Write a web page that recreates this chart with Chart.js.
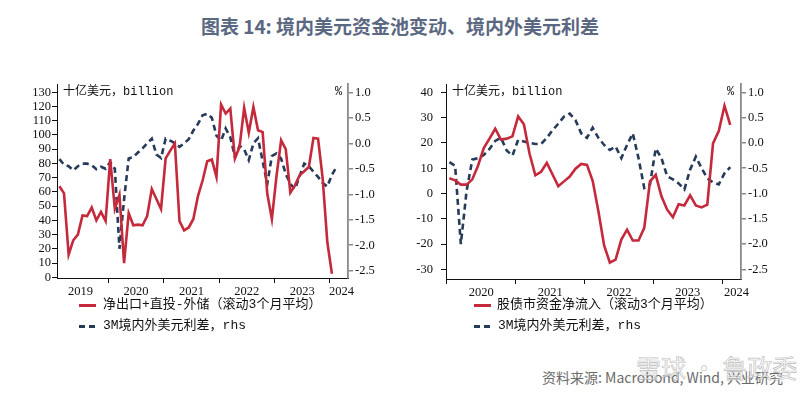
<!DOCTYPE html>
<html><head><meta charset="utf-8">
<script src="https://cdn.jsdelivr.net/npm/chart.js@4.4.1/dist/chart.umd.min.js"></script>
<style>
html,body{margin:0;padding:0;background:#fff;width:800px;height:393px;overflow:hidden;position:relative;font-family:"Noto Sans CJK SC",sans-serif}
.abs{position:absolute;white-space:nowrap}
#title{left:0;width:800px;top:12px;text-align:center;font-size:19px;font-weight:bold;color:#5b6882;line-height:28px}
canvas{position:absolute}
.unit{font-family:"Liberation Mono","Noto Sans CJK SC",monospace;font-size:12px;color:#111;line-height:14px}
.leg{font-family:"Liberation Mono","Noto Sans CJK SC",monospace;font-size:13px;color:#111;line-height:16px}
.sw{position:absolute;height:3px}
#src{right:17px;top:367px;font-size:14px;color:#6a6a6a;line-height:20px}
#wm{left:636px;top:352px;font-size:25px;color:rgba(245,245,245,0.6);-webkit-text-stroke:0.7px rgba(150,150,150,0.6);line-height:30px}
</style></head><body>
<div id="title" class="abs">图表 14: 境内美元资金池变动、境内外美元利差</div>

<canvas id="cL" width="400" height="240" style="left:0;top:60px;width:400px;height:240px"></canvas>
<canvas id="cR" width="400" height="241" style="left:400px;top:60px;width:400px;height:241px"></canvas>

<div class="abs unit" style="left:63px;top:85px">十亿美元，billion</div>
<div class="abs unit" style="left:335px;top:85px">%</div>
<div class="abs unit" style="left:452px;top:85px">十亿美元，billion</div>
<div class="abs unit" style="left:727px;top:85px">%</div>

<div class="sw" style="left:79px;top:304px;width:17px;background:#c4293c"></div>
<div class="abs leg" style="left:103px;top:297px">净出口+直投-外储（滚动3个月平均）</div>
<div class="sw" style="left:79px;top:325px;width:6px;background:#263a5a"></div>
<div class="sw" style="left:89px;top:325px;width:6px;background:#263a5a"></div>
<div class="abs leg" style="left:103px;top:318px">3M境内外美元利差，rhs</div>

<div class="sw" style="left:474px;top:304px;width:17px;background:#c4293c"></div>
<div class="abs leg" style="left:497px;top:297px">股债市资金净流入（滚动3个月平均）</div>
<div class="sw" style="left:474px;top:325px;width:6px;background:#263a5a"></div>
<div class="sw" style="left:484px;top:325px;width:6px;background:#263a5a"></div>
<div class="abs leg" style="left:498px;top:318px">3M境内外美元利差，rhs</div>

<div id="src" class="abs">资料来源: Macrobond, Wind, 兴业研究</div>
<div id="wm" class="abs">雪球 · 鲁政委</div>

<script>
// ---------- DATA (months counted from Jan 2020 = 0) ----------
const leftYears = [2019, 2020, 2021, 2022, 2023, 2024];
const rightYears = [2020, 2021, 2022, 2023, 2024];

const leftStartMonth = -11; // Feb 2019
const leftNetFlow = [64,59,16,26,30,43.5,43,49,40,46,39.5,
  83,48,58,10,45,36.5,37,36.5,43,62,
  55,48,83.5,89,94,39.5,33,35,41,57,
  68,81.5,82.7,70.5,121.3,115,118.5,83.4,91.6,119,
  101.6,119.7,103.3,102,58.8,40.8,71,96.3,90,59.5,
  64.6,71.7,74.5,77.5,97.9,97.4,69.3,24.8,2.5];
const leftSpread = [-0.31,-0.42,-0.45,-0.53,-0.45,-0.40,-0.40,-0.43,-0.51,-0.46,-0.50,
  -0.37,-0.50,-2.07,-1.10,-0.30,-0.27,-0.18,-0.10,0.00,0.09,
  -0.22,-0.29,0.09,0.05,0.00,-0.07,0.00,0.08,0.25,0.38,
  0.55,0.58,0.50,0.15,0.05,0.29,0.12,-0.27,-0.05,-0.12,
  -0.33,0.00,0.10,-0.35,-0.80,-0.25,-0.20,-0.30,-0.60,-0.80,
  -0.90,-0.65,-0.40,-0.45,-0.56,-0.66,-0.78,-0.85,-0.62,-0.46];

const rightStartMonth = 0; // Jan 2020
const rightPortfolioFlow = [6,5.2,3.5,3.5,5.6,11,18,21.7,25.6,21.3,
  21.7,22.6,30.5,27.4,15.6,7.2,8.6,12.1,7.5,2.9,
  4.8,6.7,9.8,11.7,11.3,5,-7,-20.5,-27.3,-26.1,
  -18.2,-14.3,-18.6,-18.6,-13.6,4.8,7.4,-1.1,-6.4,-9.4,
  -4.2,-4.7,-0.7,-4.7,-5.5,-4.4,19.8,24.7,34.7,27.1];
const rightSpread = [-0.38,-0.45,-2.00,-0.95,-0.33,-0.30,-0.24,-0.12,0.04,0.10,
  -0.15,-0.25,0.06,0.03,0.00,-0.02,-0.02,0.10,0.25,0.38,
  0.52,0.58,0.45,0.19,0.10,0.30,0.10,-0.04,-0.14,-0.07,
  -0.30,-0.04,0.19,-0.30,-0.89,-0.82,-0.11,-0.30,-0.66,-0.72,
  -0.80,-0.92,-0.53,-0.27,-0.50,-0.70,-0.78,-0.82,-0.60,-0.48];

const leftAxisTicks = [0,10,20,30,40,50,60,70,80,90,100,110,120,130];
const rightAxisTicks = [-30,-20,-10,0,10,20,30,40];
const rhsTicks = [-2.5,-2.0,-1.5,-1.0,-0.5,0.0,0.5,1.0];

// ---------- STYLE ----------
const RED = '#c4293c', NAVY = '#263a5a';
const POINT_OFFSET = 0.42;
const serif = {family: '"Liberation Serif", "Times New Roman", serif', size: 12.5};

function pts(start, arr) { return arr.map((v, i) => ({x: start + i + POINT_OFFSET, y: v})); }
function yearStart(y) { return (y - 2020) * 12; }

function makeChart(id, o) {
  const starts = o.years.map(yearStart).filter(v => v >= o.xMin && v <= o.xMax);
  const labelPos = o.years.map(y => {
    const s = yearStart(y);
    return (s + 12 > o.xMax) ? s + 2.5 : s + 6;
  });
  return new Chart(document.getElementById(id), {
    type: 'line',
    data: {datasets: [
      {data: pts(o.start, o.flow), borderColor: RED, borderWidth: 2.6, pointRadius: 0, tension: 0, yAxisID: 'y', xAxisID: 'x'},
      {data: pts(o.start, o.spread), borderColor: NAVY, borderWidth: 2.6, borderDash: [6, 4], pointRadius: 0, tension: 0, yAxisID: 'y2', xAxisID: 'x'}
    ]},
    options: {
      responsive: false, animation: false, events: [],
      layout: {padding: {top: 24, left: 0, right: 0, bottom: 0}},
      plugins: {legend: {display: false}, tooltip: {enabled: false}},
      scales: {
        x: {type: 'linear', position: 'bottom', min: o.xMin, max: o.xMax, weight: 0,
          afterBuildTicks: s => { s.ticks = starts.map(v => ({value: v})); },
          afterFit: s => { s.height = 6; },
          ticks: {display: false, autoSkip: false},
          grid: {display: true, drawOnChartArea: false, drawTicks: true, tickLength: 5, color: '#111', lineWidth: 1},
          border: {display: true, color: '#111', width: 1}},
        xl: {type: 'linear', position: 'bottom', min: o.xMin, max: o.xMax, weight: 1,
          afterBuildTicks: s => { s.ticks = labelPos.map(v => ({value: v})); },
          afterFit: s => { s.height = 16; },
          ticks: {autoSkip: false, maxRotation: 0, padding: 0, font: serif, color: '#111',
            callback: (v, i) => String(o.years[i])},
          grid: {display: false, drawTicks: false}, border: {display: false}},
        y: {position: 'left', min: o.yMin, max: o.yMax,
          afterBuildTicks: s => { s.ticks = o.yTicks.map(v => ({value: v})); },
          afterFit: s => { s.width = o.leftW; },
          ticks: {autoSkip: false, padding: o.leftPad, font: serif, color: '#111', callback: v => String(v)},
          grid: {drawOnChartArea: false, drawTicks: true, tickLength: 5, color: '#111'},
          border: {display: true, color: '#111', width: 1}},
        y2: {position: 'right', min: o.rMin, max: o.rMax,
          afterBuildTicks: s => { s.ticks = rhsTicks.map(v => ({value: v})); },
          afterFit: s => { s.width = o.rightW; },
          ticks: {autoSkip: false, padding: o.rightPad, font: serif, color: '#111', callback: v => Number(v).toFixed(1)},
          grid: {drawOnChartArea: false, drawTicks: true, tickLength: 5, color: '#8a8a8a', lineWidth: 1.5},
          border: {display: true, color: '#8a8a8a', width: 1.8}}
      }
    }
  });
}

makeChart('cL', {years: leftYears, start: leftStartMonth, flow: leftNetFlow, spread: leftSpread,
  xMin: -11.1, xMax: 51.9, yMin: -0.5, yMax: 135.8, rMin: -2.643, rMax: 1.163,
  yTicks: leftAxisTicks, leftW: 57, rightW: 52, leftPad: 1, rightPad: 2});

makeChart('cR', {years: rightYears, start: rightStartMonth, flow: rightPortfolioFlow, spread: rightSpread,
  xMin: -0.17, xMax: 51.3, yMin: -33.8, yMax: 43.3, rMin: -2.69, rMax: 1.165,
  yTicks: rightAxisTicks, leftW: 46, rightW: 59, leftPad: 8, rightPad: 2});
</script>
</body></html>
